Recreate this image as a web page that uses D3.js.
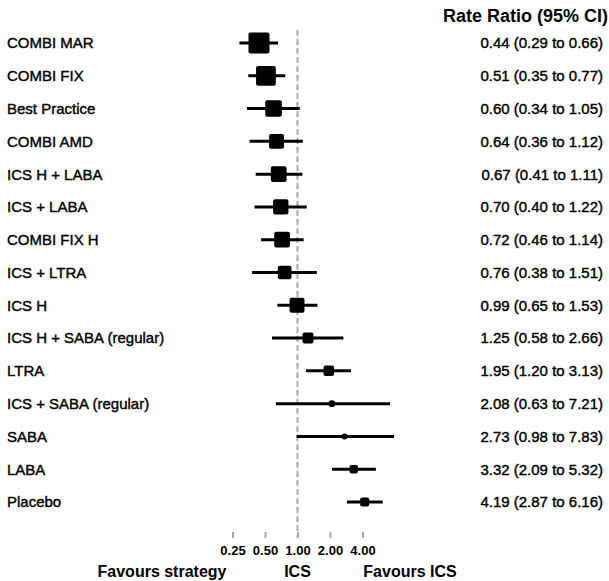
<!DOCTYPE html>
<html>
<head>
<meta charset="utf-8">
<script src="https://cdn.jsdelivr.net/npm/d3@7"></script>
<style>
  body { margin: 0; background: #fff; }
  text { font-family: "Liberation Sans", Arial, sans-serif; fill: #000; }
</style>
</head>
<body>
<script>
(()=>{
    const width = 609;
    const height = 581;

    // rows, top to bottom
    const strategies = ["COMBI MAR", "COMBI FIX", "Best Practice", "COMBI AMD", "ICS H + LABA",
        "ICS + LABA", "COMBI FIX H", "ICS + LTRA", "ICS H", "ICS H + SABA (regular)",
        "LTRA", "ICS + SABA (regular)", "SABA", "LABA", "Placebo"];
    const rateRatio = [0.44, 0.51, 0.60, 0.64, 0.67, 0.70, 0.72, 0.76, 0.99, 1.25, 1.95, 2.08, 2.73, 3.32, 4.19];
    const ciLow  = [0.29, 0.35, 0.34, 0.36, 0.41, 0.40, 0.46, 0.38, 0.65, 0.58, 1.20, 0.63, 0.98, 2.09, 2.87];
    const ciHigh = [0.66, 0.77, 1.05, 1.12, 1.11, 1.22, 1.14, 1.51, 1.53, 2.66, 3.13, 7.21, 7.83, 5.32, 6.16];
    // relative weight of each estimate (box size)
    const weight = [100, 94, 79, 71, 75, 73, 75, 65, 71, 52, 50, 33, 29, 40, 43];
    const tickValues = [0.25, 0.5, 1, 2, 4];

    const rows = strategies.map((s, i) => ({
        name: s, rr: rateRatio[i], lo: ciLow[i], hi: ciHigh[i], w: weight[i]
    }));

    const fmt = d3.format(".2f");

    const x = d3.scaleLog().base(2)
        .domain([0.25, 4])
        .range([232.5, 362.5]);

    const y = d3.scalePoint()
        .domain(strategies)
        .range([43, 502]);

    const size = d3.scaleLinear()
        .domain([0, d3.max(weight)])
        .range([0, 21]);

    const svg = d3.create("svg")
        .attr("width", width)
        .attr("height", height)
        .attr("viewBox", [0, 0, width, height]);

    // reference line at 1
    svg.append("line")
        .attr("x1", x(1)).attr("x2", x(1))
        .attr("y1", 30).attr("y2", 538)
        .attr("stroke", "#a8a8a8")
        .attr("stroke-width", 2)
        .attr("stroke-dasharray", "6,3");

    // axis
    const axis = svg.append("g")
        .attr("transform", `translate(0,532)`)
        .call(d3.axisBottom(x).tickValues(tickValues).tickFormat(fmt).tickSize(6).tickPadding(8));
    axis.select(".domain").remove();
    axis.selectAll(".tick line").attr("stroke", "#a8a8a8").attr("stroke-width", 2);
    axis.selectAll(".tick text")
        .attr("font-family", "Liberation Sans, Arial, sans-serif")
        .attr("font-size", 13)
        .attr("font-weight", "bold");

    // CI lines
    svg.selectAll("ciLines")
        .data(rows)
        .enter()
        .append("line")
        .attr("x1", d => x(d.lo))
        .attr("x2", d => x(d.hi))
        .attr("y1", d => y(d.name))
        .attr("y2", d => y(d.name))
        .attr("stroke", "#000")
        .attr("stroke-width", 3);

    // boxes
    svg.selectAll("boxes")
        .data(rows)
        .enter()
        .append("rect")
        .attr("x", d => x(d.rr) - size(d.w) / 2)
        .attr("y", d => y(d.name) - size(d.w) / 2)
        .attr("width", d => size(d.w))
        .attr("height", d => size(d.w))
        .attr("rx", d => size(d.w) < 8 ? size(d.w) / 2 : 2)
        .attr("fill", "#000");

    // labels
    svg.selectAll("labels")
        .data(rows)
        .enter()
        .append("text")
        .attr("x", 7)
        .attr("y", d => y(d.name))
        .attr("dy", "0.36em")
        .attr("font-size", 15)
        .attr("stroke", "#000")
        .attr("stroke-width", 0.4)
        .text(d => d.name);

    // estimates column
    svg.append("text")
        .attr("x", 608)
        .attr("y", 22)
        .attr("text-anchor", "end")
        .attr("font-size", 18)
        .attr("font-weight", "bold")
        .text("Rate Ratio (95% CI)");

    svg.selectAll("vals")
        .data(rows)
        .enter()
        .append("text")
        .attr("x", 603)
        .attr("y", d => y(d.name))
        .attr("dy", "0.36em")
        .attr("text-anchor", "end")
        .attr("font-size", 15)
        .attr("stroke", "#000")
        .attr("stroke-width", 0.4)
        .text(d => `${fmt(d.rr)} (${fmt(d.lo)} to ${fmt(d.hi)})`);

    // favours labels
    const foot = [["Favours strategy", 162], ["ICS", x(1)], ["Favours ICS", 410]];
    svg.selectAll("foot")
        .data(foot)
        .enter()
        .append("text")
        .attr("x", d => d[1])
        .attr("y", 577)
        .attr("text-anchor", "middle")
        .attr("font-size", 16)
        .attr("font-weight", "bold")
        .text(d => d[0]);

    d3.select("body").append(() => svg.node());
})()
</script>
</body>
</html>
